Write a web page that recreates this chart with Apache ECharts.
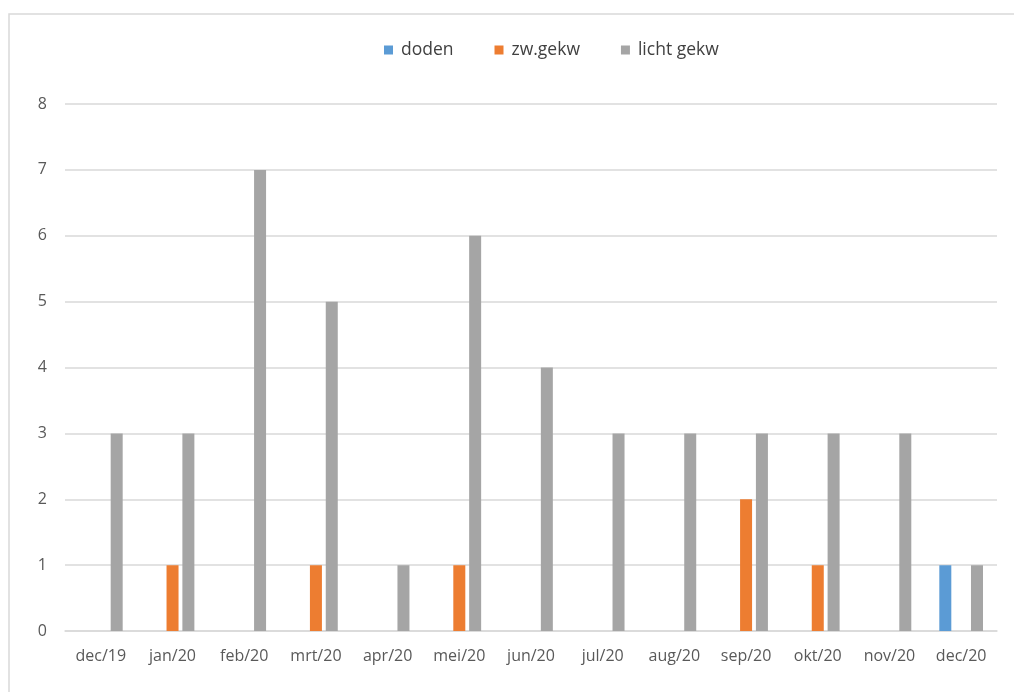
<!DOCTYPE html>
<html>
<head>
<meta charset="utf-8">
<script src="https://cdn.jsdelivr.net/npm/echarts@6/dist/echarts.min.js"></script>
<style>
html,body{margin:0;padding:0;background:#fff;}
#c{width:1014px;height:692px;}
</style>
</head>
<body>
<div id="c"></div>
<script>
const categories = ['dec/19','jan/20','feb/20','mrt/20','apr/20','mei/20','jun/20','jul/20','aug/20','sep/20','okt/20','nov/20','dec/20'];
const doden = [0,0,0,0,0,0,0,0,0,0,0,0,1];
const zwGekw = [0,1,0,1,0,1,0,0,0,2,1,0,0];
const lichtGekw = [3,3,7,5,1,6,4,3,3,3,3,3,1];
const yTicks = [0,1,2,3,4,5,6,7,8];

const font = '"Open Sans", "Noto Sans", sans-serif';
const chart = echarts.init(document.getElementById('c'), null, {renderer:'canvas'});
chart.setOption({
  backgroundColor: '#fff',
  animation: false,
  graphic: [{
    type: 'rect',
    shape: {x: 9, y: 14, width: 1020, height: 700},
    style: {fill: 'none', stroke: '#d9d9d9', lineWidth: 1.5},
    silent: true
  }],
  legend: {
    top: 36,
    left: 379,
    itemWidth: 9,
    itemHeight: 9,
    itemGap: 41,
    icon: 'rect',
    textStyle: {fontFamily: font, fontSize: 17.5, color: '#404040', padding: [0,0,0,3]},
    data: ['doden','zw.gekw','licht gekw']
  },
  grid: {left: 65, right: 17, top: 104, bottom: 61, containLabel: false},
  xAxis: {
    type: 'category',
    data: categories,
    axisLine: {lineStyle: {color: '#d9d9d9', width: 1.5}},
    axisTick: {show: false},
    axisLabel: {fontFamily: font, fontSize: 16, color: '#595959', margin: 17}
  },
  yAxis: {
    type: 'value',
    min: yTicks[0],
    max: yTicks[yTicks.length-1],
    interval: 1,
    axisLine: {show: false},
    axisTick: {show: false},
    splitLine: {lineStyle: {color: '#d9d9d9', width: 1.5}},
    axisLabel: {fontFamily: font, fontSize: 16, color: '#595959', margin: 18}
  },
  series: [
    {name: 'doden', type: 'bar', data: doden, barWidth: 12, barGap: '32%', itemStyle: {color: '#5B9BD5'}},
    {name: 'zw.gekw', type: 'bar', data: zwGekw, barWidth: 12, barGap: '32%', itemStyle: {color: '#ED7D31'}},
    {name: 'licht gekw', type: 'bar', data: lichtGekw, barWidth: 12, barGap: '32%', itemStyle: {color: '#A5A5A5'}}
  ]
});
</script>
</body>
</html>
